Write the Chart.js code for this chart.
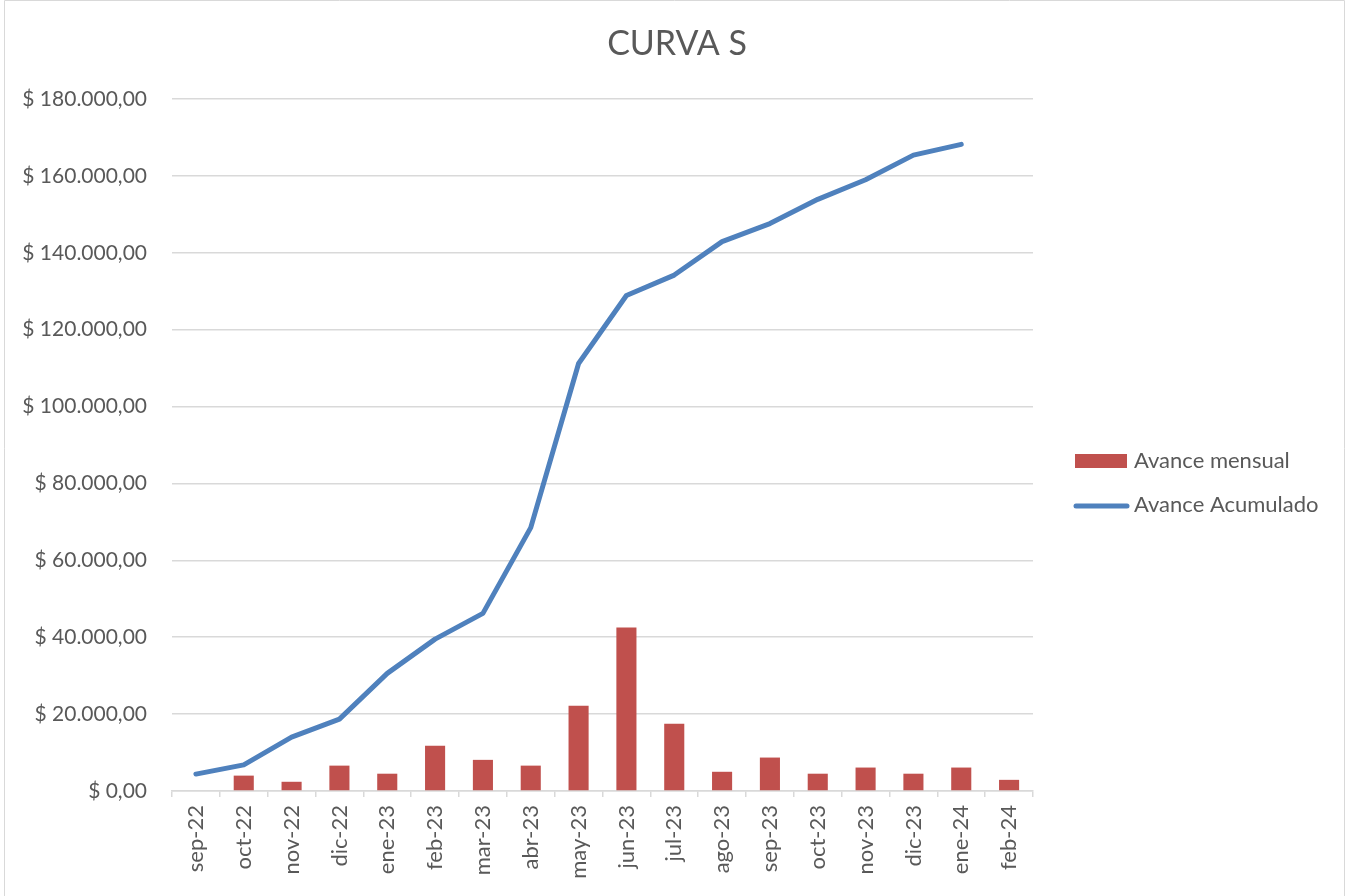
<!DOCTYPE html>
<html>
<head>
<meta charset="utf-8">
<script src="https://cdn.jsdelivr.net/npm/chart.js@4.4.1/dist/chart.umd.min.js"></script>
<style>
html,body{margin:0;padding:0;background:#fff;}
#wrap{position:relative;width:1346px;height:896px;}
canvas{display:block;}
</style>
</head>
<body>
<div id="wrap"><canvas id="c" width="1346" height="896"></canvas></div>
<script>
const categories = ["sep-22","oct-22","nov-22","dic-22","ene-23","feb-23","mar-23","abr-23","may-23","jun-23","jul-23","ago-23","sep-23","oct-23","nov-23","dic-23","ene-24","feb-24"];
const avanceMensual = [null,4000,2400,6600,4500,11800,8100,6600,22200,42500,17500,5000,8700,4500,6100,4500,6100,2900];
const avanceAcumulado = [4400,6800,14000,18700,30600,39500,46200,68500,111200,128900,134200,142900,147600,153900,159000,165400,168200,null];
const seriesNames = ["Avance mensual","Avance Acumulado"];
const chartTitle = "CURVA S";
const yTicks = [0,20000,40000,60000,80000,100000,120000,140000,160000,180000];

const FONT = "Lato, 'Open Sans', sans-serif";
const TXT = "#595959";
const GRID = "#d9d9d9";
const BAR = "#c0504d";
const LINE = "#4f81bd";

function fmt(v){
  const s = Math.round(v).toString().replace(/\B(?=(\d{3})+(?!\d))/g, ".");
  return "$ " + s + ",00";
}

const decor = {
  id: "decor",
  afterDraw(chart){
    const ctx = chart.ctx;
    ctx.save();
    // outer border
    ctx.strokeStyle = GRID;
    ctx.lineWidth = 1;
    ctx.beginPath();
    ctx.moveTo(4.5, 900); ctx.lineTo(4.5, 0.5); ctx.lineTo(1344.5, 0.5); ctx.lineTo(1344.5, 900);
    ctx.stroke();
    // title
    ctx.fillStyle = TXT;
    ctx.font = "34px " + FONT;
    ctx.textAlign = "center";
    ctx.textBaseline = "middle";
    ctx.fillText(chartTitle, 677, 44);
    // legend
    ctx.font = "22px " + FONT;
    ctx.textAlign = "left";
    ctx.fillStyle = BAR;
    ctx.fillRect(1075, 454, 52, 14);
    ctx.fillStyle = TXT;
    ctx.fillText(seriesNames[0], 1134, 461);
    ctx.strokeStyle = LINE;
    ctx.lineWidth = 5;
    ctx.lineCap = "round";
    ctx.beginPath(); ctx.moveTo(1076, 506); ctx.lineTo(1127, 506); ctx.stroke();
    ctx.fillText(seriesNames[1], 1134, 505);
    ctx.restore();
  }
};

new Chart(document.getElementById("c"), {
  data: {
    labels: categories,
    datasets: [
      {
        type: "line",
        label: seriesNames[1],
        data: avanceAcumulado,
        borderColor: LINE,
        backgroundColor: LINE,
        borderWidth: 5,
        pointRadius: 0,
        tension: 0,
        borderCapStyle: "round",
        borderJoinStyle: "round",
        order: 0
      },
      {
        type: "bar",
        label: seriesNames[0],
        data: avanceMensual,
        backgroundColor: BAR,
        barPercentage: 0.42,
        categoryPercentage: 1,
        order: 1
      }
    ]
  },
  options: {
    responsive: false,
    animation: false,
    layout: { padding: { top: 99, right: 313, left: 0, bottom: 0 } },
    plugins: { legend: { display: false }, title: { display: false }, tooltip: { enabled: false } },
    scales: {
      x: {
        offset: true,
        grid: { display: true, drawOnChartArea: false, drawTicks: true, tickLength: 6, color: GRID, lineWidth: 1.5, offset: true },
        border: { display: true, color: GRID, width: 1.5 },
        ticks: { color: TXT, font: { family: FONT, size: 22 }, minRotation: 90, maxRotation: 90, padding: 8, autoSkip: false },
        afterFit(s){ s.height = 105; }
      },
      y: {
        min: 0, max: 180000,
        afterBuildTicks(s){ s.ticks = yTicks.map(v => ({ value: v })); },
        grid: { color: GRID, lineWidth: 1.5, drawTicks: false },
        border: { display: false },
        ticks: { color: TXT, font: { family: FONT, size: 21 }, padding: 25, callback: v => fmt(v) },
        afterFit(s){ s.width = 172; }
      }
    }
  },
  plugins: [decor]
});
</script>
</body>
</html>
